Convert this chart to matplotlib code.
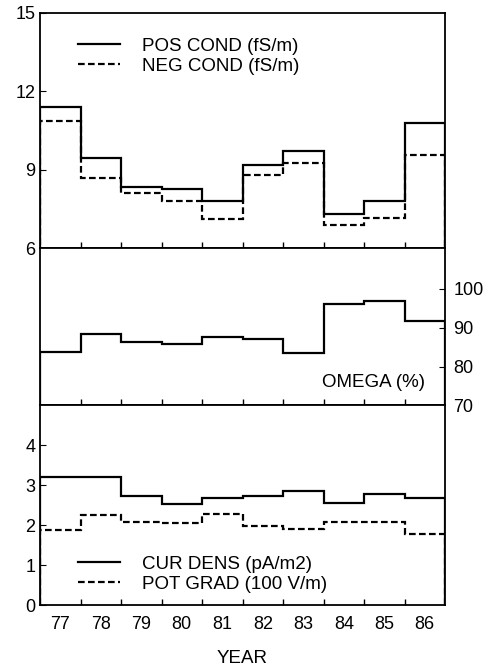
import numpy as np
import matplotlib
matplotlib.use("Agg")
import matplotlib.pyplot as plt

plt.rcParams['font.family'] = ['Liberation Sans', 'DejaVu Sans']

years = [77, 78, 79, 80, 81, 82, 83, 84, 85, 86]
pos_cond = [11.4, 9.45, 8.35, 8.25, 7.8, 9.2, 9.7, 7.3, 7.8, 10.8]
neg_cond = [10.85, 8.7, 8.1, 7.8, 7.1, 8.8, 9.25, 6.9, 7.15, 9.55]
omega = [83.8, 88.3, 86.3, 85.8, 87.7, 87.2, 83.5, 96.1, 97.0, 91.7]
cur_dens = [3.21, 3.21, 2.73, 2.54, 2.67, 2.74, 2.85, 2.56, 2.77, 2.67]
pot_grad = [1.87, 2.25, 2.07, 2.05, 2.27, 1.99, 1.91, 2.07, 2.09, 1.77]

edges = [y - 0.5 for y in years] + [years[-1] + 0.5]
fs = 13.5   # text
tfs = 13    # tick labels
lw = 1.6

fig = plt.figure(figsize=(4.88, 6.71), dpi=100)
ax1 = fig.add_axes([0.082, 0.630, 0.830, 0.351])
ax2 = fig.add_axes([0.082, 0.396, 0.830, 0.234])
ax3 = fig.add_axes([0.082, 0.098, 0.830, 0.298])

for ax in (ax1, ax2, ax3):
    ax.set_xlim(76.5, 86.5)
    ax.set_xticks([y + 0.5 for y in years[:-1]])
    ax.tick_params(axis='x', direction='in', length=4, width=1, labelbottom=False)
    for s in ax.spines.values():
        s.set_linewidth(1.3)

leg_kw = dict(frameon=False, fontsize=fs, handlelength=2.25, handletextpad=1.15,
              labelspacing=0.15, borderaxespad=0)

# top panel
ax1.stairs(pos_cond, edges, color='black', lw=lw, label='POS COND (fS/m)')
ax1.stairs(neg_cond, edges, color='black', lw=lw, ls=(0, (3, 1.5)), label='NEG COND (fS/m)')
ax1.set_ylim(6, 15)
ax1.set_yticks([6, 9, 12, 15])
ax1.tick_params(axis='y', direction='in', length=4, labelsize=tfs)
ax1.legend(loc='upper left', bbox_to_anchor=(0.075, 0.925), **leg_kw)

# middle panel
ax2.stairs(omega, edges, color='black', lw=lw)
ax2.set_ylim(70, 110.5)
ax2.set_yticks([70, 80, 90, 100])
ax2.yaxis.tick_right()
ax2.tick_params(axis='y', direction='in', length=4, labelsize=tfs, pad=6)
ax2.text(0.951, 0.147, 'OMEGA (%)', transform=ax2.transAxes, ha='right', va='center', fontsize=fs)

# bottom panel
ax3.stairs(cur_dens, edges, color='black', lw=lw, label='CUR DENS (pA/m2)')
ax3.stairs(pot_grad, edges, color='black', lw=lw, ls=(0, (3, 1.5)), label='POT GRAD (100 V/m)')
ax3.set_ylim(0, 5)
ax3.set_yticks([0, 1, 2, 3, 4])
ax3.tick_params(axis='y', direction='in', length=4, labelsize=tfs)
ax3.set_xticks(years, minor=True)
ax3.set_xticklabels([str(y) for y in years], minor=True)
ax3.tick_params(axis='x', which='minor', length=0, labelsize=tfs, pad=8)
ax3.legend(loc='lower left', bbox_to_anchor=(0.075, 0.025), **leg_kw)
ax3.set_xlabel('YEAR', fontsize=fs, labelpad=12)

fig.savefig('out.png', dpi=100)
